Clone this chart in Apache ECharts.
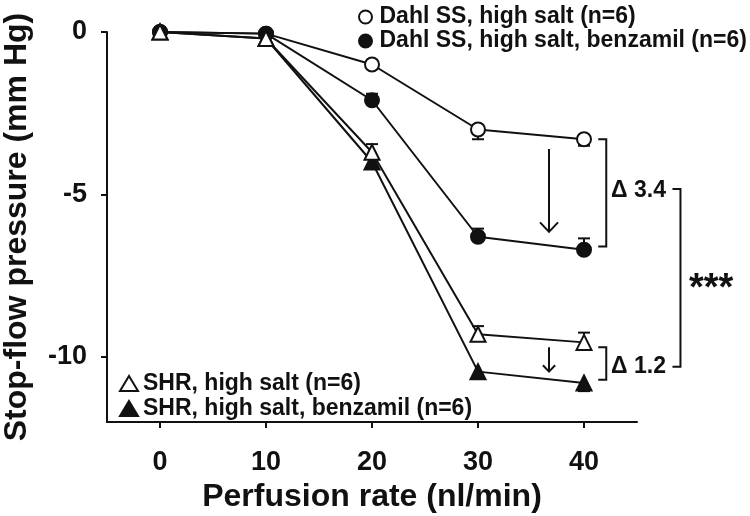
<!DOCTYPE html>
<html>
<head>
<meta charset="utf-8">
<script src="https://cdn.jsdelivr.net/npm/echarts@6/dist/echarts.min.js"></script>
<style>html,body{margin:0;padding:0;background:#fff}#c{width:750px;height:516px}</style>
</head>
<body>
<div id="c"></div>
<script>
// ---- data ----
const perfusion = [0, 10, 20, 30, 40];
const dahlHS    = [0, -0.05, -1.0, -3.0, -3.3];
const dahlBenz  = [0, -0.05, -2.1, -6.3, -6.7];
const shrHS     = [0, -0.2, -3.7, -9.3, -9.55];
const shrBenz   = [0, -0.2, -4.0, -10.45, -10.8];
// one-sided SEM (sign = direction)
const errDahlHS   = [0, 0, 0, -0.3, -0.2];
const errDahlBenz = [0, 0, 0.2, 0.25, 0.35];
const errShrHS    = [0, 0, 0.25, 0.25, 0.3];
const errShrBenz  = [0, 0, 0, 0, -0.25];
const xTicks = [0, 10, 20, 30, 40];
const yTicks = [0, -5, -10];
const names = ['Dahl SS, high salt (n=6)', 'Dahl SS, high salt, benzamil (n=6)',
               'SHR, high salt (n=6)', 'SHR, high salt, benzamil (n=6)'];
// annotations (data units)
const arrows   = [[36.7, -3.6, -6.15], [36.7, -9.7, -10.45]];
const brackets = [[42.1, -3.3, -6.6], [42.1, -9.7, -10.7], [49.1, -4.83, -10.3]];
const notes    = [['Δ 3.4', 42.55, -4.87, 23], ['Δ 1.2', 42.55, -10.3, 23], ['***', 49.9, -7.75, 38]];

const FONT = 'Liberation Sans, Arial, sans-serif';
const INK = '#111';

function pairs(ys) { return perfusion.map((x, i) => [x, ys[i]]); }
function errData(ys, es) { return perfusion.map((x, i) => [x, ys[i], es[i]]); }

function lineSeries(name, ys, symbol, filled, size) {
  return {
    type: 'line', name: name, data: pairs(ys), symbol: symbol, symbolSize: size,
    clip: false, z: 3,
    lineStyle: { color: INK, width: 2 },
    itemStyle: { color: filled ? INK : '#fff', borderColor: INK, borderWidth: 2, opacity: 1 },
    emphasis: { disabled: true }
  };
}
function errSeries(ys, es) {
  return {
    type: 'custom', data: errData(ys, es), clip: false, z: 2, silent: true,
    renderItem: function (params, api) {
      const e = api.value(2);
      if (!e) return null;
      const p0 = api.coord([api.value(0), api.value(1)]);
      const p1 = api.coord([api.value(0), api.value(1) + e]);
      return { type: 'group', children: [
        { type: 'line', shape: { x1: p0[0], y1: p0[1], x2: p1[0], y2: p1[1] }, style: { stroke: INK, lineWidth: 2 } },
        { type: 'line', shape: { x1: p1[0] - 6, y1: p1[1], x2: p1[0] + 6, y2: p1[1] }, style: { stroke: INK, lineWidth: 2 } }
      ] };
    }
  };
}

const annot = {
  type: 'custom', data: [0], clip: false, z: 4, silent: true,
  renderItem: function (params, api) {
    const ch = [];
    arrows.forEach(a => {
      const p0 = api.coord([a[0], a[1]]), p1 = api.coord([a[0], a[2]]);
      const len = p1[1] - p0[1];
      const hw = Math.min(9, len * 0.25);
      ch.push({ type: 'line', shape: { x1: p0[0], y1: p0[1], x2: p1[0], y2: p1[1] }, style: { stroke: INK, lineWidth: 2 } });
      ch.push({ type: 'polyline', shape: { points: [[p1[0] - hw, p1[1] - hw * 1.05], [p1[0], p1[1]], [p1[0] + hw, p1[1] - hw * 1.05]] }, style: { stroke: INK, lineWidth: 2, fill: null } });
    });
    brackets.forEach(b => {
      const p0 = api.coord([b[0], b[1]]), p1 = api.coord([b[0], b[2]]);
      ch.push({ type: 'polyline', shape: { points: [[p0[0] - 8, p0[1]], [p0[0], p0[1]], [p1[0], p1[1]], [p1[0] - 8, p1[1]]] }, style: { stroke: INK, lineWidth: 2, fill: null } });
    });
    notes.forEach(n => {
      const p = api.coord([n[1], n[2]]);
      const isStar = n[0] === '***';
      ch.push({ type: 'text', x: p[0], y: p[1] + (isStar ? 6 : 0), style: { text: n[0], fill: INK, font: 'bold ' + n[3] + 'px ' + FONT, textAlign: 'left', textVerticalAlign: 'middle' } });
    });
    return { type: 'group', children: ch };
  }
};

const chart = echarts.init(document.getElementById('c'), null, { renderer: 'canvas' });
chart.setOption({
  animation: false,
  backgroundColor: '#fff',
  textStyle: { fontFamily: FONT },
  grid: { left: 107, right: 113, top: 32, bottom: 94, containLabel: false, outerBoundsMode: 'none' },
  legend: [
    { data: [{ name: names[0], icon: 'circle' }, { name: names[1], icon: 'circle' }],
      orient: 'vertical', left: 353, top: 0, itemWidth: 18, itemHeight: 13, itemGap: 0,
      textStyle: { fontSize: 23, fontWeight: 'bold', color: INK, lineHeight: 24, fontFamily: FONT }, selectedMode: false },
    { data: [{ name: names[2], icon: 'triangle' }, { name: names[3], icon: 'triangle' }],
      orient: 'vertical', left: 114, top: 366, itemWidth: 18, itemHeight: 15, itemGap: 0,
      textStyle: { fontSize: 23, fontWeight: 'bold', color: INK, lineHeight: 25, fontFamily: FONT }, selectedMode: false }
  ],
  xAxis: {
    type: 'value', min: -5, max: 45,
    name: 'Perfusion rate (nl/min)', nameLocation: 'middle', nameGap: 59,
    nameTextStyle: { fontSize: 32, fontWeight: 'bold', color: INK, fontFamily: FONT },
    axisLine: { show: true, onZero: false, lineStyle: { color: INK, width: 2 } },
    axisTick: { show: true, length: 6, lineStyle: { color: INK, width: 2 }, customValues: xTicks },
    axisLabel: { fontSize: 27, fontWeight: 'bold', color: INK, margin: 27, customValues: xTicks, fontFamily: FONT },
    splitLine: { show: false }
  },
  yAxis: {
    type: 'value', min: -12, max: 0,
    name: 'Stop-flow pressure (mm Hg)', nameLocation: 'middle', nameGap: 74, nameRotate: 90,
    nameTextStyle: { fontSize: 32, fontWeight: 'bold', color: INK, fontFamily: FONT },
    axisLine: { show: true, onZero: false, lineStyle: { color: INK, width: 2 } },
    axisTick: { show: true, length: 6, lineStyle: { color: INK, width: 2 }, customValues: yTicks },
    axisLabel: { fontSize: 27, fontWeight: 'bold', color: INK, margin: 20, customValues: yTicks, fontFamily: FONT },
    splitLine: { show: false }
  },
  series: [
    errSeries(dahlHS, errDahlHS),
    errSeries(dahlBenz, errDahlBenz),
    errSeries(shrHS, errShrHS),
    errSeries(shrBenz, errShrBenz),
    lineSeries(names[0], dahlHS, 'circle', false, 14),
    lineSeries(names[1], dahlBenz, 'circle', true, 14),
    lineSeries(names[3], shrBenz, 'triangle', true, 15),
    lineSeries(names[2], shrHS, 'triangle', false, 15),
    annot
  ]
});
</script>
</body>
</html>
